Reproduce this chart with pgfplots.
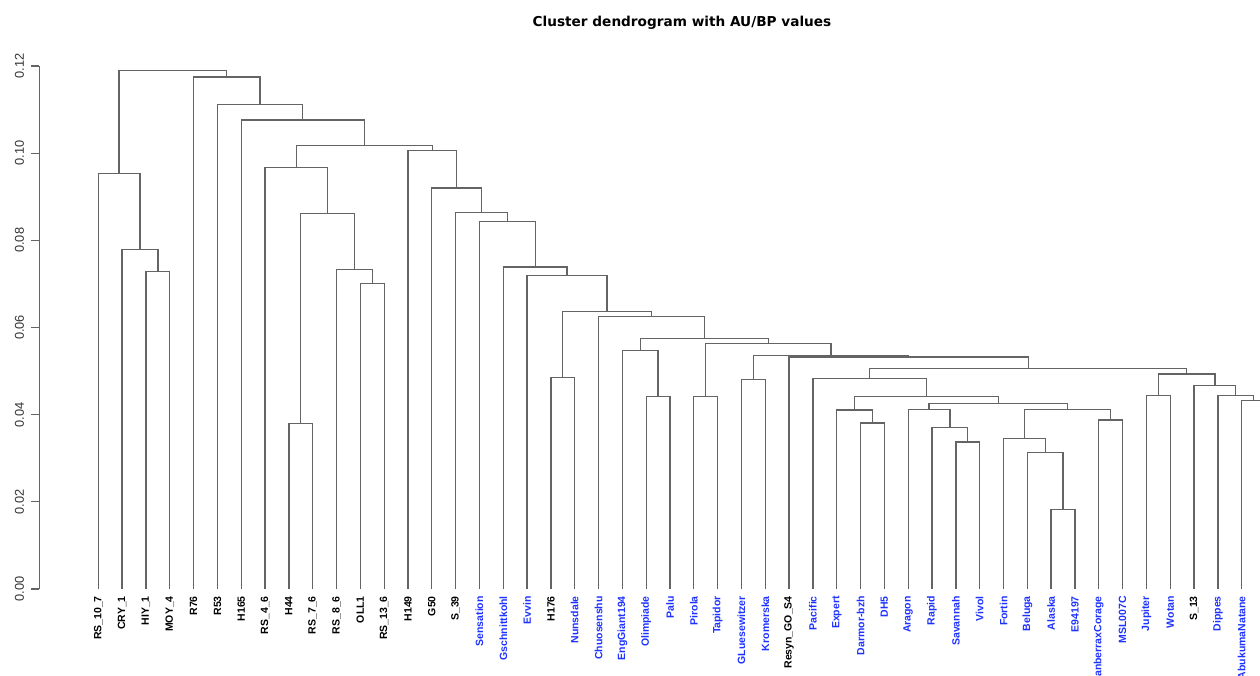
\documentclass[border=0pt]{standalone}
\usepackage{pgfplots}
\pgfplotsset{compat=1.18}
\usepackage{fontspec}
\setmainfont{Liberation Sans}
\newfontfamily\titlefont{DejaVu Sans}
\definecolor{lblue}{RGB}{30,50,255}
\definecolor{lgray}{RGB}{100,100,100}
\begin{document}
\begin{tikzpicture}[x=1pt,y=1pt]
\begin{axis}[
  scale only axis, width=1226.2pt, height=523pt,
  xmin=-2.477, xmax=49, ymin=0, ymax=0.12,
  axis line style={draw=none},
  clip=false,
  xtick={0,1,2,3,4,5,6,7,8,9,10,11,12,13,14,15,16,17,18,19,20,21,22,23,24,25,26,27,28,29,30,31,32,33,34,35,36,37,38,39,40,41,42,43,44,45,46,47,48,49},
  xticklabels={RS\_10\_7,CRY\_1,HIY\_1,MOY\_4,R76,R53,H165,RS\_4\_6,H44,RS\_7\_6,RS\_8\_6,OLL1,RS\_13\_6,H149,G50,S\_39,
  {\color{lblue}Sensation},{\color{lblue}Gschnittkohl},{\color{lblue}Evvin},H176,{\color{lblue}Nunsdale},{\color{lblue}Chuosenshu},
  {\color{lblue}EngGiant194},{\color{lblue}Olimpiade},{\color{lblue}Palu},{\color{lblue}Pirola},{\color{lblue}Tapidor},
  {\color{lblue}GLuesewitzer},{\color{lblue}Kromerska},Resyn\_GO\_S4,{\color{lblue}Pacific},{\color{lblue}Expert},
  {\color{lblue}Darmor-bzh},{\color{lblue}DH5},{\color{lblue}Aragon},{\color{lblue}Rapid},{\color{lblue}Savannah},
  {\color{lblue}Vivol},{\color{lblue}Fortin},{\color{lblue}Beluga},{\color{lblue}Alaska},{\color{lblue}E94197},
  {\color{lblue}CanberraxCorage},{\color{lblue}MSL007C},{\color{lblue}Jupiter},{\color{lblue}Wotan},S\_13,
  {\color{lblue}Dippes},{\color{lblue}AbukumaNatane},{}},
  xtick style={draw=none},
  x tick label style={font=\bfseries\fontsize{10.5}{12}\selectfont, rotate=90, anchor=east, inner sep=0pt},
  xticklabel shift=7pt,
  ytick={0,0.02,0.04,0.06,0.08,0.10,0.12},
  scaled y ticks=false,
  ytick pos=left, ytick align=outside, major tick length=8pt,
  y tick style={lgray, line width=1.3pt},
  y tick label style={font=\fontsize{12.8}{14}\selectfont, text=black!80, rotate=90, anchor=south, inner sep=0pt,
    /pgf/number format/fixed, /pgf/number format/fixed zerofill, /pgf/number format/precision=2,
    /pgf/number format/assume math mode=true},
  yticklabel shift=7pt,
  unbounded coords=jump,
]
\addplot[lgray, line width=1.3pt] table {
x y
2 0
2 0.0728
3 0.0728
3 0
nan nan
1 0
1 0.0779
2.5 0.0779
2.5 0.0728
nan nan
0 0
0 0.0953
1.75 0.0953
1.75 0.0779
nan nan
8 0
8 0.0379
9 0.0379
9 0
nan nan
11 0
11 0.0701
12 0.0701
12 0
nan nan
10 0
10 0.0733
11.5 0.0733
11.5 0.0701
nan nan
8.5 0.0379
8.5 0.0862
10.75 0.0862
10.75 0.0733
nan nan
7 0
7 0.0967
9.625 0.0967
9.625 0.0862
nan nan
19 0
19 0.0486
20 0.0486
20 0
nan nan
23 0
23 0.0442
24 0.0442
24 0
nan nan
22 0
22 0.0548
23.5 0.0548
23.5 0.0442
nan nan
25 0
25 0.0441
26 0.0441
26 0
nan nan
27 0
27 0.0480
28 0.0480
28 0
nan nan
32 0
32 0.0381
33 0.0381
33 0
nan nan
31 0
31 0.0411
32.5 0.0411
32.5 0.0381
nan nan
36 0
36 0.0337
37 0.0337
37 0
nan nan
35 0
35 0.0370
36.5 0.0370
36.5 0.0337
nan nan
34 0
34 0.0412
35.75 0.0412
35.75 0.0370
nan nan
40 0
40 0.0182
41 0.0182
41 0
nan nan
39 0
39 0.0313
40.5 0.0313
40.5 0.0182
nan nan
38 0
38 0.0345
39.75 0.0345
39.75 0.0313
nan nan
42 0
42 0.0388
43 0.0388
43 0
nan nan
38.875 0.0345
38.875 0.0412
42.5 0.0412
42.5 0.0388
nan nan
34.875 0.0412
34.875 0.0426
40.6875 0.0426
40.6875 0.0412
nan nan
31.75 0.0411
31.75 0.0442
37.78125 0.0442
37.78125 0.0426
nan nan
30 0
30 0.0483
34.765625 0.0483
34.765625 0.0442
nan nan
44 0
44 0.0444
45 0.0444
45 0
nan nan
48 0
48 0.0432
49 0.0432
49 0
nan nan
47 0
47 0.0444
48.5 0.0444
48.5 0.0432
nan nan
46 0
46 0.0467
47.75 0.0467
47.75 0.0444
nan nan
44.5 0.0444
44.5 0.0493
46.875 0.0493
46.875 0.0467
nan nan
32.3828 0.0483
32.3828 0.0506
45.6875 0.0506
45.6875 0.0493
nan nan
29 0
29 0.0532
39.0352 0.0532
39.0352 0.0506
nan nan
27.5 0.0480
27.5 0.0535
34.0176 0.0535
34.0176 0.0532
nan nan
25.5 0.0441
25.5 0.0563
30.7588 0.0563
30.7588 0.0535
nan nan
22.75 0.0548
22.75 0.0574
28.1294 0.0574
28.1294 0.0563
nan nan
21 0
21 0.0625
25.4397 0.0625
25.4397 0.0574
nan nan
19.5 0.0486
19.5 0.0636
23.2198 0.0636
23.2198 0.0625
nan nan
18 0
18 0.0720
21.3599 0.0720
21.3599 0.0636
nan nan
17 0
17 0.0739
19.6800 0.0739
19.6800 0.0720
nan nan
16 0
16 0.0844
18.3400 0.0844
18.3400 0.0739
nan nan
15 0
15 0.0864
17.1700 0.0864
17.1700 0.0844
nan nan
14 0
14 0.0920
16.0850 0.0920
16.0850 0.0864
nan nan
13 0
13 0.1006
15.0425 0.1006
15.0425 0.0920
nan nan
8.3125 0.0967
8.3125 0.1018
14.0212 0.1018
14.0212 0.1006
nan nan
6 0
6 0.1076
11.1669 0.1076
11.1669 0.1018
nan nan
5 0
5 0.1111
8.5834 0.1111
8.5834 0.1076
nan nan
4 0
4 0.1175
6.7917 0.1175
6.7917 0.1111
nan nan
0.875 0.0953
0.875 0.1189
5.3959 0.1189
5.3959 0.1175
};
\draw[lgray, line width=1.3pt] (axis cs:-2.477,0) -- (axis cs:-2.477,0.12);
\coordinate (sw) at (axis cs:-2.477,0);
\end{axis}
\pgfresetboundingbox
\path[use as bounding box] ([shift={(-39.3pt,-87pt)}]sw) rectangle ([shift={(1220.7pt,589pt)}]sw);
\node[font=\titlefont\bfseries\fontsize{13.65}{16}\selectfont, anchor=base] at ([shift={(642.7pt,562pt)}]sw) {Cluster dendrogram with AU/BP values};
\end{tikzpicture}
\end{document}
